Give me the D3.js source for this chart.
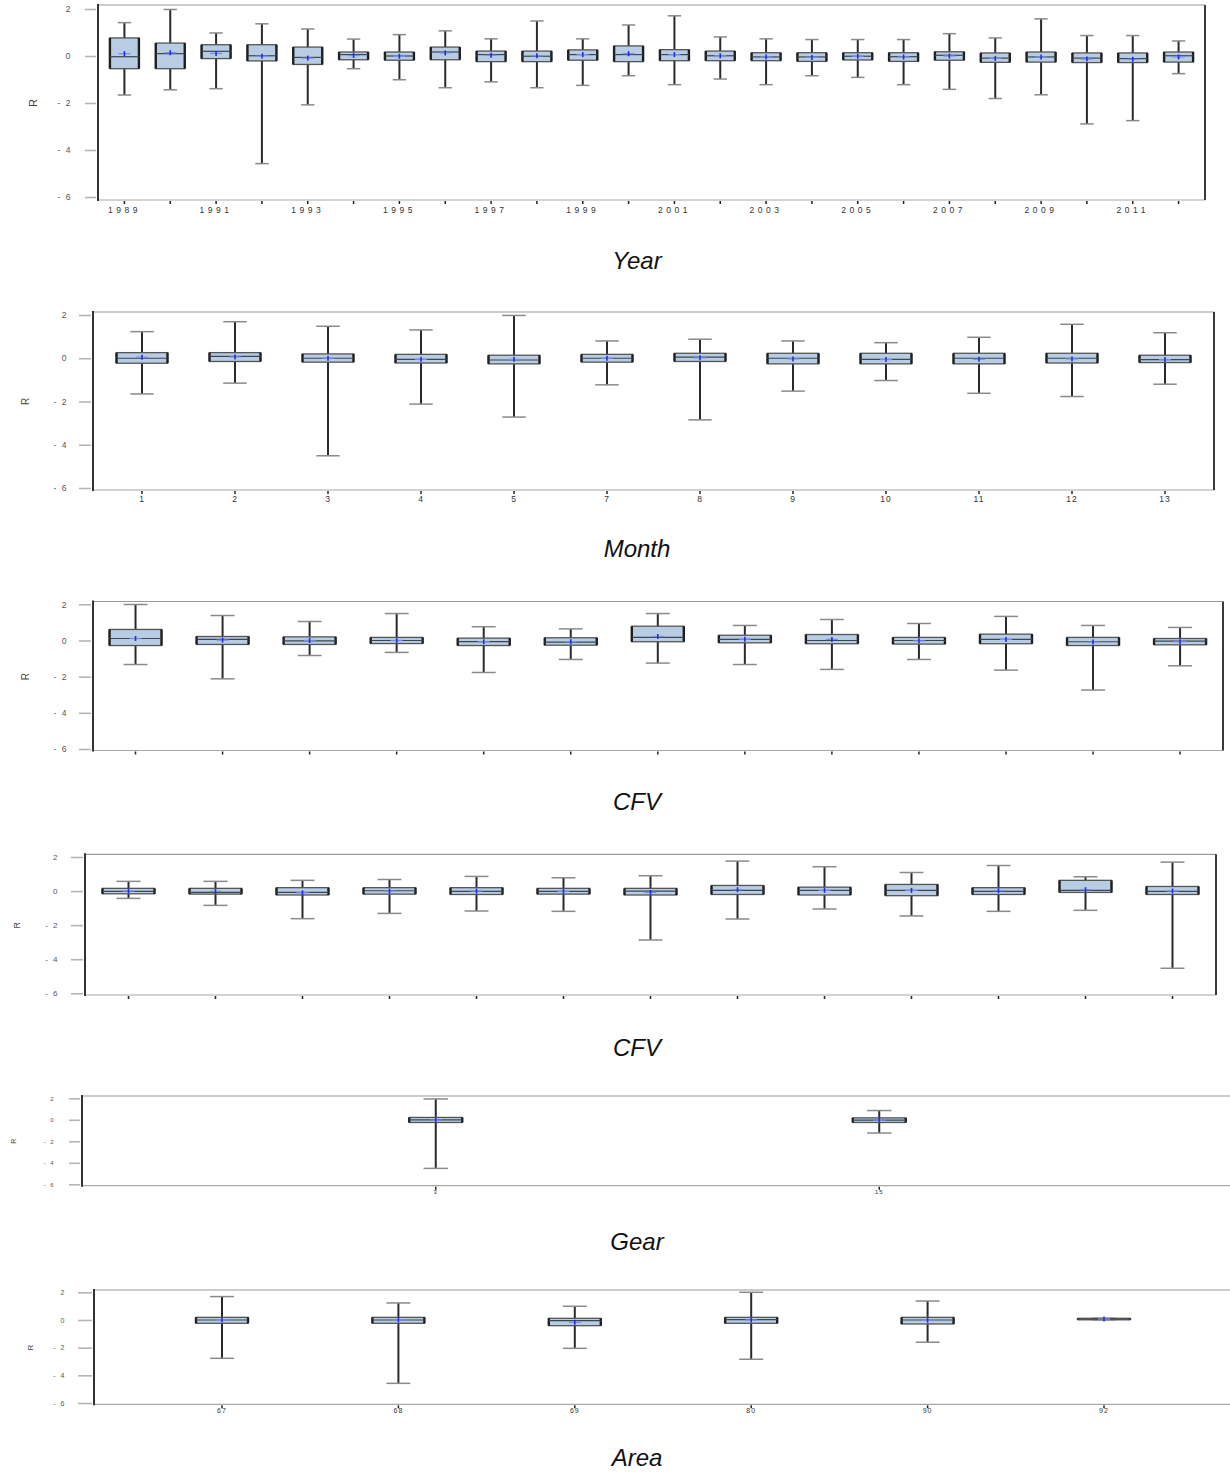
<!DOCTYPE html>
<html><head><meta charset="utf-8">
<script src="https://cdn.jsdelivr.net/npm/d3@7"></script>
<style>body{margin:0;background:#fff}svg{display:block}</style>
</head><body>
<script>
// ---- DATA: stats per box = [lowWhisker, Q1, median, Q3, highWhisker, mean]
const yTicks = [2, 0, -2, -4, -6];

const yearCats = ["1989","1990","1991","1992","1993","1994","1995","1996","1997","1998","1999","2000","2001","2002","2003","2004","2005","2006","2007","2008","2009","2010","2011","2012"];
const yearTickLabels = ["1989","1991","1993","1995","1997","1999","2001","2003","2005","2007","2009","2011"];
const yearStats = [
  [-1.66,-0.54,-0.03,0.77,1.42,0.10],[-1.44,-0.54,0.10,0.55,1.98,0.14],[-1.39,-0.11,0.20,0.48,0.98,0.11],
  [-4.58,-0.21,0.01,0.48,1.37,-0.01],[-2.08,-0.36,-0.06,0.38,1.15,-0.09],[-0.54,-0.16,0.06,0.17,0.72,0.02],
  [-1.01,-0.18,0.00,0.17,0.91,-0.01],[-1.35,-0.16,0.17,0.38,1.07,0.13],[-1.10,-0.24,0.06,0.21,0.73,0.03],
  [-1.35,-0.24,-0.01,0.21,1.49,0.01],[-1.25,-0.18,0.06,0.26,0.73,0.06],[-0.84,-0.24,0.06,0.43,1.32,0.10],
  [-1.22,-0.20,0.06,0.27,1.71,0.06],[-0.98,-0.20,0.01,0.21,0.81,0.01],[-1.22,-0.20,-0.04,0.14,0.73,-0.04],
  [-0.84,-0.23,-0.04,0.14,0.70,-0.06],[-0.91,-0.17,-0.01,0.14,0.70,-0.01],[-1.22,-0.23,-0.03,0.14,0.70,-0.04],
  [-1.42,-0.18,0.03,0.18,0.95,0.00],[-1.81,-0.27,-0.09,0.13,0.77,-0.10],[-1.65,-0.26,-0.04,0.17,1.58,-0.04],
  [-2.89,-0.28,-0.09,0.13,0.87,-0.13],[-2.75,-0.28,-0.11,0.13,0.87,-0.14],[-0.75,-0.26,0.01,0.17,0.64,-0.04]
];

const monthCats = ["1","2","3","4","5","7","8","9","10","11","12","13"];
const monthStats = [
  [-1.65,-0.23,0.00,0.26,1.23,0.05],[-1.15,-0.15,0.09,0.26,1.69,0.06],[-4.51,-0.18,0.00,0.20,1.48,0.00],
  [-2.12,-0.22,-0.05,0.18,1.31,-0.05],[-2.72,-0.26,-0.08,0.14,1.98,-0.05],[-1.23,-0.18,0.00,0.18,0.80,0.00],
  [-2.85,-0.15,0.05,0.23,0.88,0.02],[-1.52,-0.26,0.00,0.23,0.80,-0.03],[-1.03,-0.26,-0.05,0.23,0.72,-0.06],
  [-1.62,-0.26,0.00,0.23,0.97,-0.05],[-1.77,-0.22,0.00,0.23,1.57,-0.03],[-1.20,-0.20,-0.06,0.14,1.18,-0.06]
];

const cfvACats = ["a1","a2","a3","a4","a5","a6","a7","a8","a9","a10","a11","a12","a13"];
const cfvAStats = [
  [-1.33,-0.28,0.11,0.61,1.99,0.11],[-2.12,-0.22,0.06,0.22,1.38,0.02],[-0.83,-0.22,-0.02,0.20,1.05,0.00],
  [-0.66,-0.17,0.00,0.17,1.49,0.00],[-1.77,-0.28,-0.06,0.13,0.76,-0.07],[-1.05,-0.26,-0.09,0.15,0.64,-0.07],
  [-1.25,-0.07,0.17,0.79,1.49,0.22],[-1.33,-0.13,0.06,0.29,0.83,0.07],[-1.60,-0.18,0.00,0.33,1.16,0.06],
  [-1.05,-0.20,0.00,0.17,0.94,-0.02],[-1.64,-0.18,0.06,0.35,1.33,0.06],[-2.74,-0.28,-0.07,0.17,0.83,-0.09],
  [-1.40,-0.24,-0.04,0.11,0.72,-0.07]
];

const cfvBCats = ["b1","b2","b3","b4","b5","b6","b7","b8","b9","b10","b11","b12","b13"];
const cfvBStats = [
  [-0.43,-0.16,-0.02,0.16,0.57,0.00],[-0.84,-0.18,-0.08,0.16,0.57,-0.02],[-1.62,-0.23,-0.08,0.20,0.63,-0.10],
  [-1.31,-0.18,0.02,0.20,0.68,0.00],[-1.17,-0.20,-0.02,0.20,0.86,0.00],[-1.19,-0.18,-0.02,0.16,0.78,-0.02],
  [-2.87,-0.23,0.00,0.16,0.90,-0.08],[-1.64,-0.20,0.04,0.33,1.76,0.08],[-1.05,-0.23,0.04,0.23,1.43,0.04],
  [-1.46,-0.27,0.04,0.39,1.09,0.04],[-1.19,-0.20,-0.02,0.20,1.50,0.02],[-1.13,-0.08,0.04,0.63,0.84,0.08],
  [-4.53,-0.20,-0.02,0.27,1.70,0.00]
];

const gearCats = ["3","15"];
const gearStats = [
  [-4.52,-0.25,0.00,0.22,1.94,-0.03],[-1.23,-0.25,-0.03,0.18,0.86,-0.03]
];

const areaCats = ["67","68","69","80","90","92"];
const areaStats = [
  [-2.77,-0.24,0.00,0.19,1.69,0.00],[-4.58,-0.24,0.00,0.19,1.23,0.00],[-2.05,-0.41,-0.05,0.12,0.99,-0.17],
  [-2.84,-0.24,0.02,0.19,2.00,0.00],[-1.61,-0.29,0.00,0.19,1.37,-0.02],[0.02,0.02,0.07,0.12,0.12,0.07]
];

// ---- LAYOUT (positions/styles only)
const W = 1230, H = 1472;
const svg = d3.select("body").append("svg").attr("width", W).attr("height", H);

const panels = [
  {cats: yearCats, stats: yearStats, labels: yearTickLabels, title: "Year",
   frame: {l: 98, t: 5, r: 1205, b: 200}, yr: [197, 9], xr: [101.5, 1201.5], bw: 29, right: true,
   titleY: 269, yLabX: 72, tickX0: 85, rX: 33, xLabY: 213, tickFs: 8.5, rFs: 11},
  {cats: monthCats, stats: monthStats, labels: monthCats, title: "Month",
   frame: {l: 93, t: 312, r: 1214, b: 490}, yr: [488, 315], xr: [95.5, 1211.5], bw: 51, right: true,
   titleY: 557, yLabX: 68, tickX0: 79, rX: 25, xLabY: 502, tickFs: 8.5, rFs: 10},
  {cats: cfvACats, stats: cfvAStats, labels: [], title: "CFV",
   frame: {l: 93, t: 601.5, r: 1223, b: 750.5}, yr: [749, 604.3], xr: [92, 1223.6], bw: 52, right: true,
   titleY: 810, yLabX: 68, tickX0: 79, rX: 25, xLabY: 762, tickFs: 8.5, rFs: 10},
  {cats: cfvBCats, stats: cfvBStats, labels: [], title: "CFV",
   frame: {l: 85, t: 854.3, r: 1216, b: 995}, yr: [993.3, 857], xr: [85, 1216], bw: 52, right: true,
   titleY: 1056, yLabX: 59, tickX0: 71, rX: 17, xLabY: 1007, tickFs: 8, rFs: 9},
  {cats: gearCats, stats: gearStats, labels: gearCats, title: "Gear",
   frame: {l: 82, t: 1096, r: 1232, b: 1185.7}, yr: [1184.3, 1098.3], xr: [214, 1101], bw: 53, right: false,
   titleY: 1250, yLabX: 55, tickX0: 69, rX: 14, xLabY: 1194, tickFs: 6, rFs: 7},
  {cats: areaCats, stats: areaStats, labels: areaCats, title: "Area",
   frame: {l: 94, t: 1290, r: 1232, b: 1404.3}, yr: [1403, 1292.3], xr: [133.8, 1192.2], bw: 52, right: false,
   titleY: 1466, yLabX: 66, tickX0: 78, rX: 30, xLabY: 1413, tickFs: 7, rFs: 8}
];

const boxFill = "#b8cce4";
panels.forEach(p => {
  const g = svg.append("g");
  const f = p.frame;
  const y = d3.scaleLinear().domain([-6, 2]).range(p.yr);
  const x = d3.scaleBand().domain(p.cats).range(p.xr);
  const cx = c => x(c) + x.bandwidth() / 2;

  // frame lines
  g.append("line").attr("x1", f.l).attr("x2", f.r).attr("y1", f.t).attr("y2", f.t)
    .attr("stroke", "#9a9a9a").attr("stroke-width", 1.2);
  g.append("line").attr("x1", f.l).attr("x2", f.r).attr("y1", f.b).attr("y2", f.b)
    .attr("stroke", "#a8a8a8").attr("stroke-width", 1.2);
  g.append("line").attr("x1", f.l).attr("x2", f.l).attr("y1", f.t - 1).attr("y2", f.b + 1)
    .attr("stroke", "#333").attr("stroke-width", 2);
  if (p.right) g.append("line").attr("x1", f.r).attr("x2", f.r).attr("y1", f.t).attr("y2", f.b)
    .attr("stroke", "#3a3a3a").attr("stroke-width", 2);

  // y axis via d3.axisLeft (custom styled)
  const yAx = g.append("g").attr("transform", `translate(${f.l - 2},0)`)
    .call(d3.axisLeft(y).tickValues(yTicks).tickSize(f.l - 2 - p.tickX0).tickPadding(p.tickX0 - p.yLabX)
      .tickFormat(d => d < 0 ? "- " + Math.abs(d) : String(d)));
  yAx.select(".domain").remove();
  yAx.selectAll(".tick line").attr("stroke", "#b5b5b5").attr("stroke-width", 1.6);
  yAx.selectAll(".tick text").attr("fill", "#555").attr("font-family", "Arial, 'Liberation Sans', sans-serif")
    .attr("font-size", p.tickFs).attr("letter-spacing", "1.5px");

  // R label
  g.append("text").attr("transform", `translate(${p.rX},${y(-2)}) rotate(-90)`)
    .attr("text-anchor", "middle").attr("dy", "0.35em")
    .attr("font-family", "Arial, 'Liberation Sans', sans-serif").attr("font-size", p.rFs)
    .attr("fill", "#444").text("R");

  // x ticks (small marks)
  g.selectAll(".xt").data(p.cats).enter().append("line")
    .attr("x1", cx).attr("x2", cx).attr("y1", f.b + 1).attr("y2", f.b + 4)
    .attr("stroke", "#222").attr("stroke-width", 1.5);
  g.selectAll(".xl").data(p.labels).enter().append("text")
    .attr("x", cx).attr("y", p.xLabY).attr("text-anchor", "middle")
    .attr("font-family", "Arial, 'Liberation Sans', sans-serif").attr("font-size", p.tickFs)
    .attr("letter-spacing", p.cats.length > 20 ? "3.5px" : "1px").attr("fill", "#333").text(d => d);

  // boxes
  const bw = p.bw, cap = bw * 0.46;
  const bx = g.selectAll(".bx").data(p.cats.map((c, i) => ({c, s: p.stats[i]}))).enter().append("g");
  bx.append("line").attr("x1", d => cx(d.c)).attr("x2", d => cx(d.c))
    .attr("y1", d => y(d.s[4])).attr("y2", d => y(d.s[0])).attr("stroke", "#2a2a2a").attr("stroke-width", 2);
  bx.append("line").attr("x1", d => cx(d.c) - cap / 2).attr("x2", d => cx(d.c) + cap / 2)
    .attr("y1", d => y(d.s[4])).attr("y2", d => y(d.s[4])).attr("stroke", "#8a8a8a").attr("stroke-width", 1.5);
  bx.append("line").attr("x1", d => cx(d.c) - cap / 2).attr("x2", d => cx(d.c) + cap / 2)
    .attr("y1", d => y(d.s[0])).attr("y2", d => y(d.s[0])).attr("stroke", "#8a8a8a").attr("stroke-width", 1.5);
  bx.append("rect").attr("x", d => cx(d.c) - bw / 2).attr("width", bw)
    .attr("y", d => y(d.s[3])).attr("height", d => Math.max(1.5, y(d.s[1]) - y(d.s[3])))
    .attr("fill", boxFill).attr("stroke", "#555").attr("stroke-width", 1.3);
  [-1, 1].forEach(sgn => {
    bx.append("line").attr("x1", d => cx(d.c) + sgn * bw / 2).attr("x2", d => cx(d.c) + sgn * bw / 2)
      .attr("y1", d => y(d.s[3])).attr("y2", d => y(d.s[1])).attr("stroke", "#1e1e1e").attr("stroke-width", 2.4);
  });
  bx.append("line").attr("x1", d => cx(d.c) - bw / 2).attr("x2", d => cx(d.c) + bw / 2)
    .attr("y1", d => y(d.s[2])).attr("y2", d => y(d.s[2])).attr("stroke", "#3c4650").attr("stroke-width", 1.2);
  bx.append("line").attr("x1", d => cx(d.c) - 6).attr("x2", d => cx(d.c) + 6)
    .attr("y1", d => y(d.s[5])).attr("y2", d => y(d.s[5])).attr("stroke", "#7b8cf0").attr("stroke-width", 1.3);
  bx.append("line").attr("x1", d => cx(d.c)).attr("x2", d => cx(d.c))
    .attr("y1", d => y(d.s[5]) - 2.5).attr("y2", d => y(d.s[5]) + 2.5).attr("stroke", "#1f2ee0").attr("stroke-width", 1.6);

  // title
  svg.append("text").attr("x", 637).attr("y", p.titleY).attr("text-anchor", "middle")
    .attr("font-family", "Arial, 'Liberation Sans', sans-serif").attr("font-style", "italic")
    .attr("font-size", 24).attr("fill", "#111").text(p.title);
});
</script>
</body></html>
